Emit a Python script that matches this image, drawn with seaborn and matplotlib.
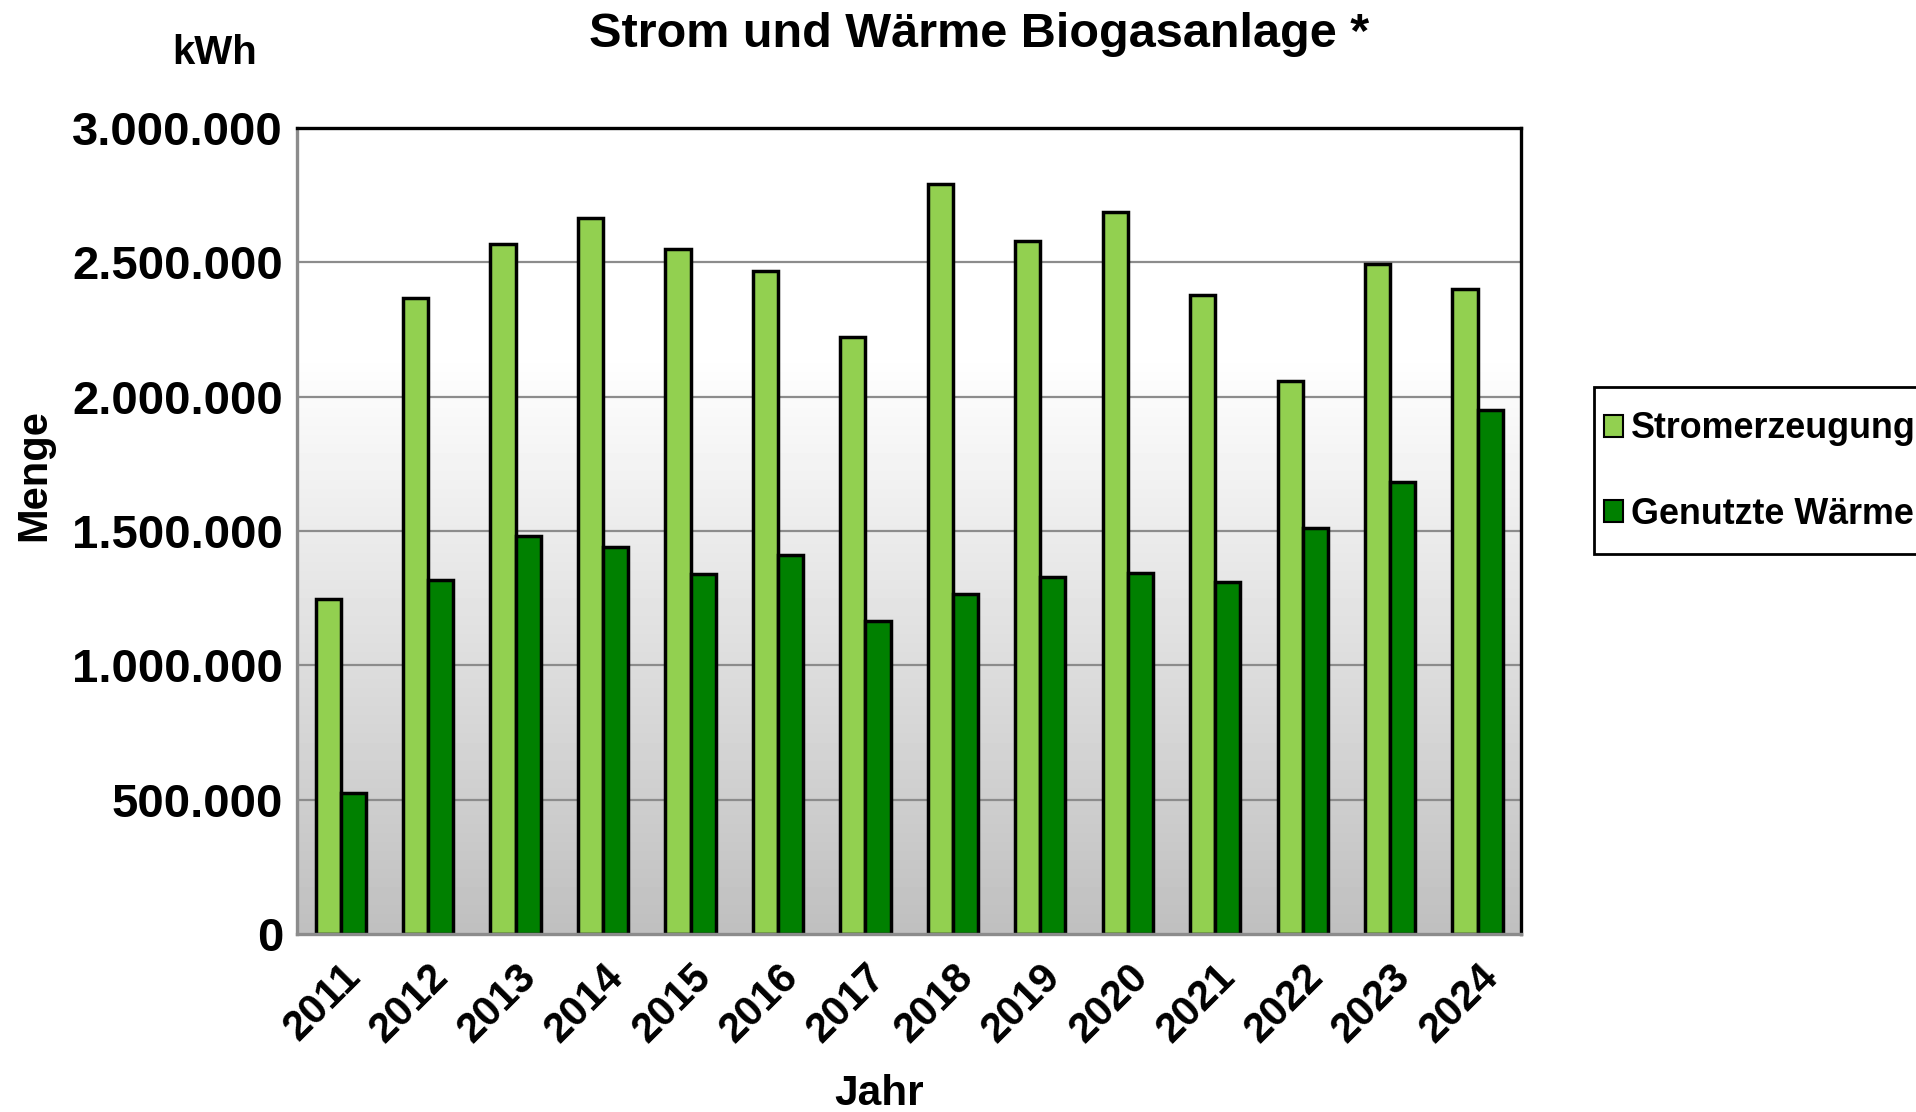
import numpy as np
import pandas as pd
import seaborn as sns
import matplotlib.pyplot as plt
from matplotlib.patches import Patch, Rectangle
from matplotlib.colors import LinearSegmentedColormap

# Values (kWh)
jahre = ['2011', '2012', '2013', '2014', '2015', '2016', '2017',
         '2018', '2019', '2020', '2021', '2022', '2023', '2024']
stromerzeugung = [1247000, 2366000, 2568000, 2665000, 2551000, 2467000, 2222000,
                  2792000, 2580000, 2686000, 2377000, 2058000, 2495000, 2401000]
genutzte_waerme = [525000, 1316000, 1483000, 1442000, 1339000, 1410000, 1164000,
                   1267000, 1328000, 1345000, 1311000, 1510000, 1684000, 1952000]
serien = ['Stromerzeugung', 'Genutzte Wärme']
farben = ['#92D050', '#008000']
y_ticks = [0, 500000, 1000000, 1500000, 2000000, 2500000, 3000000]

df = pd.DataFrame({
    'Jahr': jahre * 2,
    'Menge': stromerzeugung + genutzte_waerme,
    'Serie': [serien[0]] * len(jahre) + [serien[1]] * len(jahre),
})

sns.set_style('white')
plt.rcParams['font.family'] = ['Liberation Sans', 'DejaVu Sans']
plt.rcParams['font.weight'] = 'bold'
plt.rcParams['text.color'] = 'black'
plt.rcParams['xtick.labelcolor'] = 'black'
plt.rcParams['ytick.labelcolor'] = 'black'

fig = plt.figure(figsize=(19.16, 11.12), dpi=100)
ax = fig.add_axes([0.155, 0.160, 0.639, 0.725])

# gradient background: white at top, grey at bottom
t = np.linspace(0, 1, 256)
shade = np.where(t < 0.28, 1.0, 1.0 - (t - 0.28) / 0.72 * 0.25)
cmap = LinearSegmentedColormap.from_list('bg', ['#000000', '#ffffff'])
ax.imshow(shade.reshape(-1, 1), extent=[0, 1, 0, 1], transform=ax.transAxes,
          aspect='auto', cmap=cmap, vmin=0, vmax=1, zorder=0, interpolation='bicubic')

sns.barplot(data=df, x='Jahr', y='Menge', hue='Serie', palette=farben,
            width=0.575, gap=0, edgecolor='black', linewidth=2.5,
            saturation=1, errorbar=None, ax=ax, zorder=2)
ax.get_legend().remove()

ax.set_xlim(-0.5, len(jahre) - 0.5)
ax.set_ylim(0, 3000000)
ax.set_yticks(y_ticks)
ax.set_yticklabels([f"{v:,}".replace(',', '.') for v in y_ticks])
for v in y_ticks[1:-1]:
    ax.axhline(v, color='#8c8c8c', linewidth=1.6, zorder=1)

ax.set_xticks(range(len(jahre)))
ax.set_xticklabels(jahre, rotation=45, ha='right', va='top', rotation_mode='anchor')
ax.set_xticks(np.arange(-0.5, len(jahre)), minor=True)
ax.tick_params(axis='x', which='major', length=0, pad=16, labelsize=30)
ax.tick_params(axis='x', which='minor', length=8, width=1.6, color='#8c8c8c', direction='out')
ax.tick_params(axis='y', length=8, width=1.6, color='#8c8c8c', direction='out',
               labelsize=34, pad=2)
ax.set_xlabel('')
ax.set_ylabel('')

for s in ['top', 'right']:
    ax.spines[s].set_color('black')
    ax.spines[s].set_linewidth(2.4)
for s in ['left', 'bottom']:
    ax.spines[s].set_color('#8c8c8c')
    ax.spines[s].set_linewidth(2.4)
for s in ax.spines.values():
    s.set_zorder(5)

fig.text(0.511, 0.969, 'Strom und Wärme Biogasanlage *', ha='center', va='center',
         fontsize=35, fontweight='bold')
fig.text(0.134, 0.952, 'kWh', ha='right', va='center', fontsize=29, fontweight='bold')
fig.text(0.018, 0.573, 'Menge', ha='center', va='center', rotation=90,
         fontsize=30, fontweight='bold')
fig.text(0.459, 0.016, 'Jahr', ha='center', va='center', fontsize=30.5, fontweight='bold')

# legend box runs past the right edge, as in the original
fig.patches.append(Rectangle((0.832, 0.502), 0.2, 0.150, transform=fig.transFigure,
                             facecolor='white', edgecolor='black', linewidth=2,
                             figure=fig, zorder=0))
handles = [Patch(facecolor=c, edgecolor='black', linewidth=1.5) for c in farben]
leg = fig.legend(handles, serien, loc='center left', bbox_to_anchor=(0.837, 0.576),
                 frameon=False, fontsize=25.8, handlelength=0.55, handleheight=0.55,
                 handletextpad=0.2, labelspacing=1.4, borderpad=0, borderaxespad=0)

fig.savefig('out.png', dpi=100)
